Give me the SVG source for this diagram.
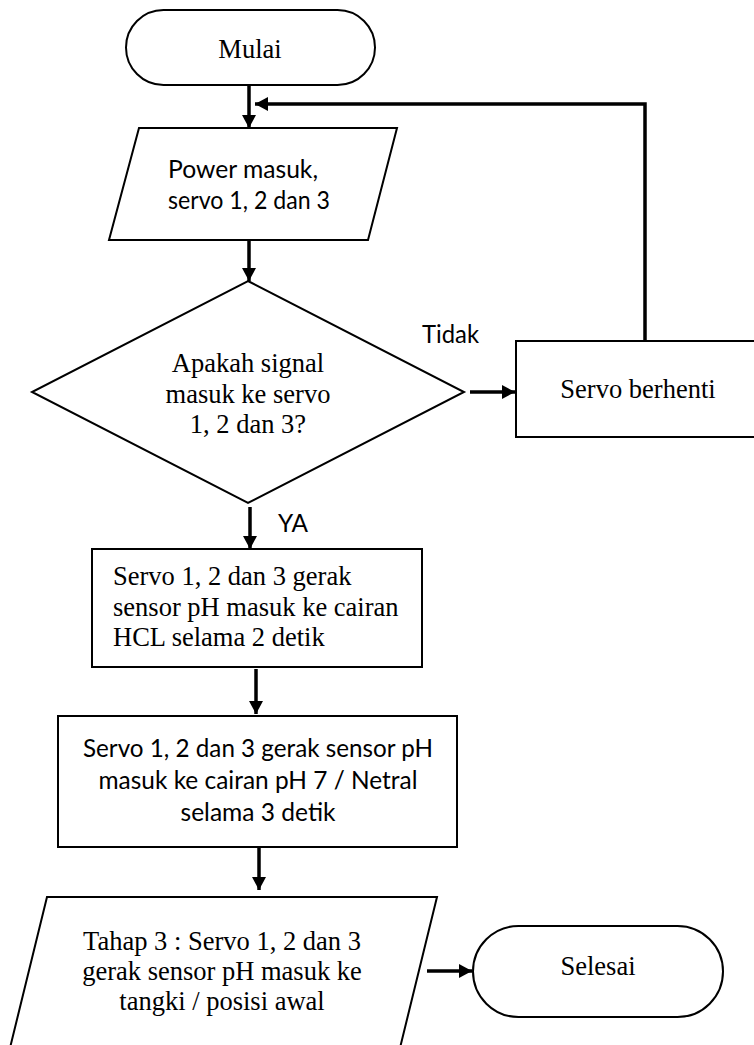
<svg xmlns="http://www.w3.org/2000/svg" width="754" height="1045" viewBox="0 0 754 1045">
<style>
.shape{fill:#fff;stroke:#000;stroke-width:2}
.serif{font-family:"Liberation Serif","Times New Roman",serif;font-size:26.5px;fill:#000}
.sans{font-family:Lato,"Liberation Sans",sans-serif;font-size:25px;fill:#000}
.conn{fill:none;stroke:#000;stroke-width:3.5}
</style>
<defs>
<marker id="ah" viewBox="0 0 13 14" refX="13" refY="7" markerWidth="13" markerHeight="14" markerUnits="userSpaceOnUse" orient="auto">
<path d="M0,0 L13,7 L0,14 z" fill="#000"/>
</marker>
</defs>
<rect width="754" height="1045" fill="#fff"/>
<g id="connectors">
<path class="conn" d="M249,86 L249,128" marker-end="url(#ah)"/>
<path class="conn" d="M645,341 L645,104 L255,104" marker-end="url(#ah)"/>
<path class="conn" d="M249,240 L249,281" marker-end="url(#ah)"/>
<path class="conn" d="M470,392 L515,392" marker-end="url(#ah)"/>
<path class="conn" d="M250,507 L250,549" marker-end="url(#ah)"/>
<path class="conn" d="M256,669 L256,714" marker-end="url(#ah)"/>
<path class="conn" d="M259,848 L259,890" marker-end="url(#ah)"/>
<path class="conn" d="M427,971 L472,971" marker-end="url(#ah)"/>
</g>
<g id="mulai">
<rect class="shape" x="126" y="10" width="249" height="75" rx="37.5"/>
<text class="serif" x="250" y="58" text-anchor="middle">Mulai</text>
</g>
<g id="power">
<polygon class="shape" points="139,128 397,128 368,240 109,240"/>
<text class="sans" x="168" y="178" textLength="150" lengthAdjust="spacingAndGlyphs">Power masuk,</text>
<text class="sans" x="168" y="209" textLength="162" lengthAdjust="spacingAndGlyphs">servo 1, 2 dan 3</text>
</g>
<g id="decision">
<polygon class="shape" points="248,281 464,392 248,503 32,392"/>
<text class="serif" x="248" y="372" text-anchor="middle">Apakah signal</text>
<text class="serif" x="248" y="403" text-anchor="middle">masuk ke servo</text>
<text class="serif" x="248" y="433" text-anchor="middle">1, 2 dan 3?</text>
</g>
<g id="label-tidak">
<text class="sans" x="422" y="343" textLength="57" lengthAdjust="spacingAndGlyphs">Tidak</text>
</g>
<g id="label-ya">
<text class="sans" x="278" y="532" textLength="30" lengthAdjust="spacingAndGlyphs">YA</text>
</g>
<g id="servo-berhenti">
<rect class="shape" x="516" y="341" width="240" height="96"/>
<text class="serif" x="638" y="398" text-anchor="middle">Servo berhenti</text>
</g>
<g id="hcl">
<rect class="shape" x="92" y="549" width="330" height="118"/>
<text class="serif" x="113" y="585">Servo 1, 2 dan 3 gerak</text>
<text class="serif" x="113" y="616">sensor pH masuk ke cairan</text>
<text class="serif" x="113" y="646">HCL selama 2 detik</text>
</g>
<g id="netral">
<rect class="shape" x="58" y="716" width="399" height="131"/>
<text class="sans" x="258" y="757" text-anchor="middle" textLength="350" lengthAdjust="spacingAndGlyphs">Servo 1, 2 dan 3 gerak sensor pH</text>
<text class="sans" x="258" y="789" text-anchor="middle" textLength="319" lengthAdjust="spacingAndGlyphs">masuk ke cairan pH 7 / Netral</text>
<text class="sans" x="258" y="821" text-anchor="middle" textLength="155" lengthAdjust="spacingAndGlyphs">selama 3 detik</text>
</g>
<g id="tahap3">
<polygon class="shape" points="47,897 437,897 399,1052 9,1052"/>
<text class="serif" x="222" y="950" text-anchor="middle">Tahap 3 : Servo 1, 2 dan 3</text>
<text class="serif" x="222" y="980" text-anchor="middle">gerak sensor pH masuk ke</text>
<text class="serif" x="222" y="1010" text-anchor="middle">tangki / posisi awal</text>
</g>
<g id="selesai">
<rect class="shape" x="473" y="926" width="250" height="91" rx="45.5"/>
<text class="serif" x="598" y="975" text-anchor="middle">Selesai</text>
</g>
</svg>
